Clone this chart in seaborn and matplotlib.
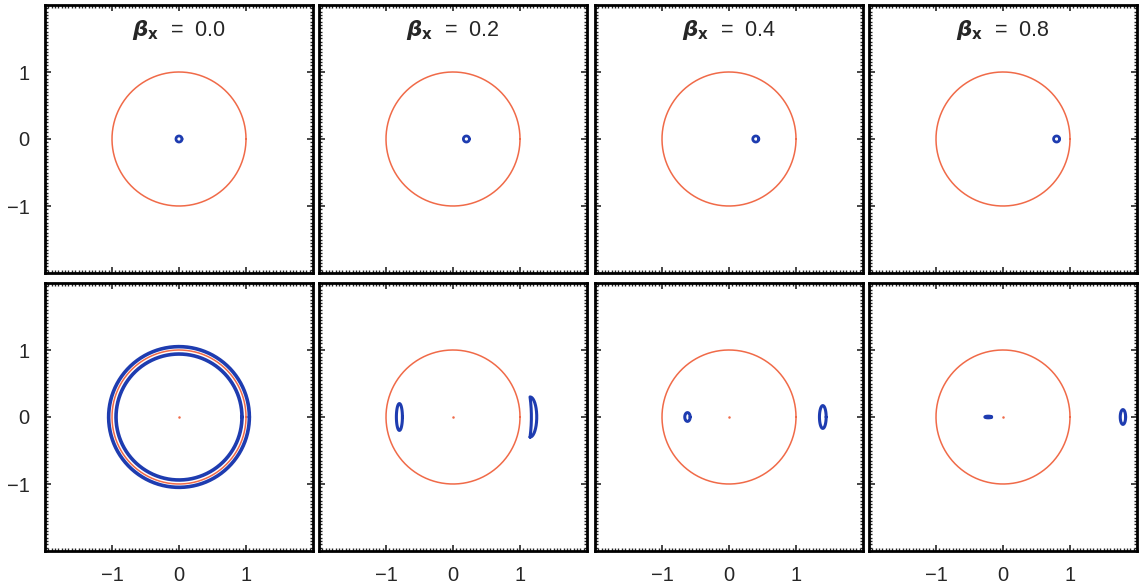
import numpy as np
import pandas as pd
import matplotlib.pyplot as plt
import seaborn as sns
from matplotlib.ticker import MultipleLocator

# beta_x for each column
betas = [0.0, 0.2, 0.4, 0.8]
titles = ["0.0", "0.2", "0.4", "0.8"]

# radius of the reference (red) circle
circle_r = 1.0

# top row: one tiny blue loop per panel
top_x = [0.0, 0.2, 0.4, 0.8]
top_r = [0.045, 0.045, 0.045, 0.045]

# bottom row: blue loops per panel (centre x, half width, half height)
bot_x = [[], [-0.80, 1.15], [-0.62, 1.40], [-0.22, 1.79]]
bot_w = [[], [0.045, 0.10], [0.04, 0.05], [0.05, 0.04]]
bot_h = [[], [0.20, 0.30], [0.065, 0.17], [0.012, 0.11]]
bot_shape = [[], ["ellipse", "crescent"], ["ellipse", "ellipse"], ["ellipse", "ellipse"]]
# bottom-left panel: two blue rings around the red circle
ring_r = [0.94, 1.05]

RED = "#f06a48"
BLUE = "#1e3cb0"

sns.set_style("ticks")
plt.rcParams['font.family'] = ['Liberation Sans', 'DejaVu Sans']
plt.rcParams['mathtext.fontset'] = 'dejavusans'


def ring(cx, cy, rx, ry, n=200):
    t = np.linspace(0, 2 * np.pi, n)
    return pd.DataFrame({"x": cx + rx * np.cos(t), "y": cy + ry * np.sin(t)})


def crescent(cx, hw, hh, n=100):
    s = np.linspace(-1, 1, n)
    right = cx + hw * np.sqrt(1 - s ** 2)
    left = cx + 0.02 * (1 - s ** 2)
    x = np.concatenate([right, left[::-1], right[:1]])
    y = np.concatenate([s * hh, s[::-1] * hh, s[:1] * hh])
    return pd.DataFrame({"x": x, "y": y})


def draw(df, ax, color, lw):
    sns.lineplot(data=df, x="x", y="y", sort=False, estimator=None,
                 color=color, linewidth=lw, ax=ax)


W, H = 1141, 587
fig = plt.figure(figsize=(W / 100, H / 100), dpi=100)
col_left = [45, 319, 595, 869]
row_top = [5, 283]
size = 268

for r in range(2):
    for c in range(4):
        ax = fig.add_axes([col_left[c] / W, 1 - (row_top[r] + size) / H, size / W, size / H])
        draw(ring(0, 0, circle_r, circle_r), ax, RED, 1.1)
        if r == 0:
            draw(ring(top_x[c], 0, top_r[c], top_r[c], 60), ax, BLUE, 2.0)
            ax.text(0, 1.62, r"$\boldsymbol{\beta}_{\mathbf{x}}$  =  " + titles[c],
                    ha="center", va="center", fontsize=15.5)
        else:
            ax.plot([0], [0], marker="o", ms=1.8, color=RED, mec="none")
            if c == 0:
                for rr in ring_r:
                    draw(ring(0, 0, rr, rr, 300), ax, BLUE, 2.6)
            for bx, bw, bh, shp in zip(bot_x[c], bot_w[c], bot_h[c], bot_shape[c]):
                if shp == "crescent":
                    draw(crescent(bx, bw, bh), ax, BLUE, 2.2)
                else:
                    draw(ring(bx, 0, bw, bh, 80), ax, BLUE, 2.2)
        ax.set_xlim(-2, 2)
        ax.set_ylim(-2, 2)
        ax.set_xlabel("")
        ax.set_ylabel("")
        ax.set_xticks([-1, 0, 1])
        ax.set_yticks([-1, 0, 1])
        ax.xaxis.set_minor_locator(MultipleLocator(0.05))
        ax.yaxis.set_minor_locator(MultipleLocator(0.05))
        ax.tick_params(which="major", direction="in", length=4, width=1.2,
                       top=True, right=True, labelsize=14.5, pad=11)
        ax.tick_params(which="minor", direction="in", length=2, width=1.0,
                       top=True, right=True)
        if c > 0:
            ax.set_yticklabels([])
        else:
            ax.set_yticklabels(["\u22121", "0", "1"])
        if r == 0:
            ax.set_xticklabels([])
        else:
            ax.set_xticklabels(["\u22121", "0", "1"])
        for sp in ax.spines.values():
            sp.set_linewidth(2)
            sp.set_color("black")

fig.savefig("out.png", dpi=100)
